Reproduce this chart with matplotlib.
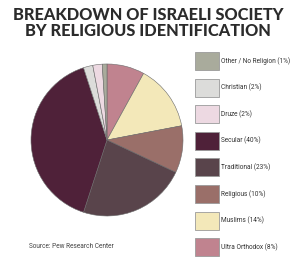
import matplotlib
matplotlib.use("Agg")
import matplotlib.pyplot as plt

# pie order, clockwise from 12 o'clock
groups = ["Ultra Orthodox", "Muslims", "Religious", "Traditional",
          "Secular", "Christian", "Druze", "Other / No Religion"]
shares = [8, 14, 10, 23, 40, 2, 2, 1]
colors = ["#c0838f", "#f3e8b9", "#9a6f69", "#59444b",
          "#4f2139", "#dcdcda", "#edd9e2", "#a9ab9c"]
# legend order, top to bottom
legend_order = ["Other / No Religion", "Christian", "Druze", "Secular",
                "Traditional", "Religious", "Muslims", "Ultra Orthodox"]

title = "BREAKDOWN OF ISRAELI SOCIETY\nBY RELIGIOUS IDENTIFICATION"
source = "Source: Pew Research Center"

fig = plt.figure(figsize=(3.0, 2.74), dpi=100)
fig.patch.set_facecolor("white")

ax = fig.add_axes([(107 - 76) / 300, (274 - 140 - 76) / 274, 152 / 300, 152 / 274])
wedges, _ = ax.pie(shares, colors=colors, startangle=90, counterclock=False,
                   wedgeprops=dict(edgecolor="#6a6a6a", linewidth=0.4))
ax.set_xlim(-1, 1)
ax.set_ylim(-1, 1)
ax.set_aspect("equal")
ax.axis("off")

handles = [wedges[groups.index(g)] for g in legend_order]
labels = [f"{g} ({shares[groups.index(g)]}%)" for g in legend_order]
fs = 4.7
fpx = fs * 100 / 72
# patch height = fpx * (0.65 * hh + 0.245) -> want ~18 px
hh = (18 / fpx - 0.245) / 0.65
leg = fig.legend(handles, labels, loc="upper left",
                 bbox_to_anchor=(195 / 300, 1 - 52 / 274),
                 frameon=False, handlelength=24 / fpx, handleheight=hh,
                 labelspacing=8.6 / fpx, handletextpad=0.35,
                 borderaxespad=0, borderpad=0,
                 prop=dict(family="Roboto", size=fs))
for h in leg.legend_handles:
    h.set_edgecolor("#9a9a9a")
    h.set_linewidth(0.6)
for t in leg.get_texts():
    t.set_color("#333333")

fig.text(0.493, 1 - 7 / 274, title, ha="center", va="top", fontsize=11.8,
         family="Lato", fontweight="black", color="#2b2b2b", linespacing=0.98)
fig.text(29 / 300, 1 - 246 / 274, source, ha="left", va="center",
         fontsize=4.7, family="Roboto", color="#444444")

fig.savefig("out.png", dpi=100)
